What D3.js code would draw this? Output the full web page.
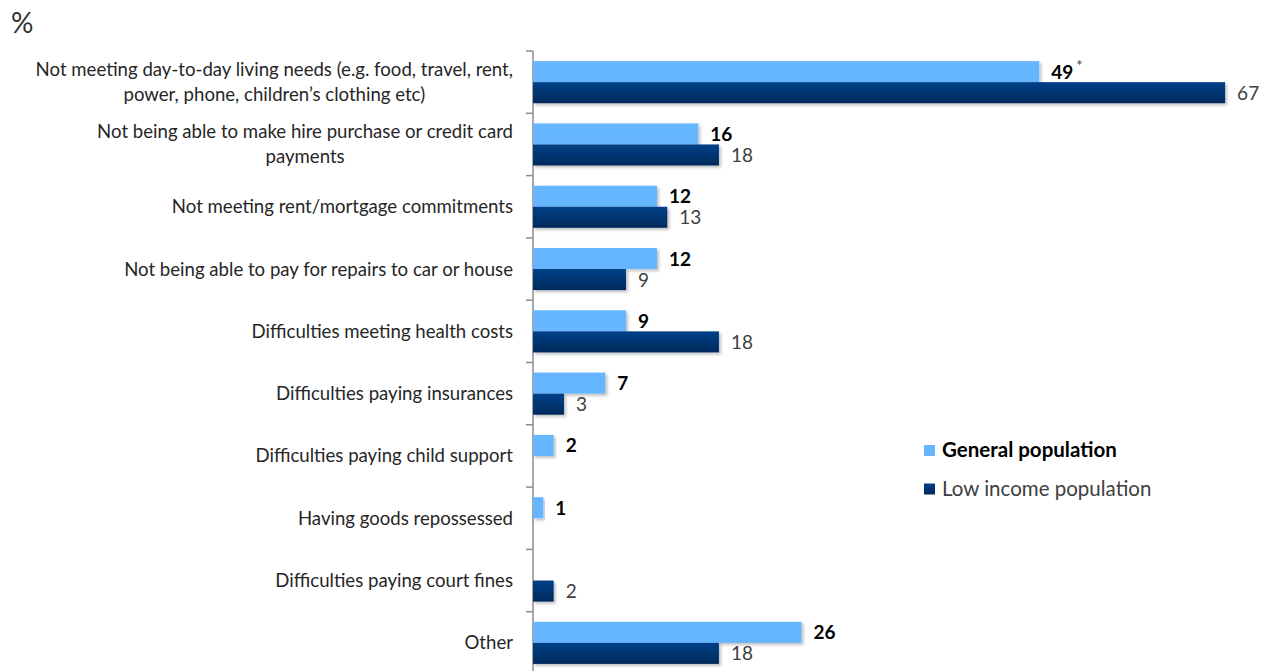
<!DOCTYPE html>
<html>
<head>
<meta charset="utf-8">
<script src="https://cdnjs.cloudflare.com/ajax/libs/d3/7.8.5/d3.min.js"></script>
<style>
body { margin: 0; background: #fff; }
svg text { font-family: Lato, "Open Sans", sans-serif; }
</style>
</head>
<body>
<svg width="1272" height="671"></svg>
<script>
// categories (each entry = lines of the label)
var categories = [
  ["Not meeting day-to-day living needs (e.g. food, travel, rent,", "power, phone, children\u2019s clothing etc)"],
  ["Not being able to make hire purchase or credit card", "payments"],
  ["Not meeting rent/mortgage commitments"],
  ["Not being able to pay for repairs to car or house"],
  ["Difficulties meeting health costs"],
  ["Difficulties paying insurances"],
  ["Difficulties paying child support"],
  ["Having goods repossessed"],
  ["Difficulties paying court fines"],
  ["Other"]
];
var general = [49, 16, 12, 12, 9, 7, 2, 1, null, 26];
var lowIncome = [67, 18, 13, 9, 18, 3, null, null, 2, 18];
var seriesNames = ["General population", "Low income population"];

var svg = d3.select("svg");

var defs = svg.append("defs");
var grad = defs.append("linearGradient").attr("id", "darkGrad")
    .attr("x1", 0).attr("y1", 0).attr("x2", 0).attr("y2", 1);
grad.append("stop").attr("offset", "0%").attr("stop-color", "#004189");
grad.append("stop").attr("offset", "100%").attr("stop-color", "#002a5c");

var shadow = defs.append("filter").attr("id", "shadow")
    .attr("x", "-5%").attr("y", "-20%").attr("width", "120%").attr("height", "160%");
shadow.append("feDropShadow").attr("dx", 2).attr("dy", 2).attr("stdDeviation", 1.5)
    .attr("flood-color", "#000").attr("flood-opacity", 0.25);

var x = d3.scaleLinear().domain([0, 70]).range([533, 533 + 70 * 10.33]);
var y = d3.scaleBand().domain(d3.range(categories.length)).range([51, 51 + 62.3 * 10])
    .paddingInner(0).paddingOuter(0);
var inner = d3.scaleBand().domain([0, 1]).range([0, y.bandwidth()]).paddingOuter(0.48).paddingInner(0);

// % title
svg.append("text").attr("x", 11).attr("y", 33).attr("font-size", 28)
    .attr("fill", "#333").text("%");

// y axis
var gAxis = svg.append("g").attr("transform", "translate(533,0)");
gAxis.append("line").attr("x1", 0).attr("x2", 0).attr("y1", 51).attr("y2", 51 + 62.3 * 10)
    .attr("stroke", "#8c8c8c").attr("stroke-width", 1.5);
gAxis.selectAll(".sep").data(d3.range(categories.length)).enter().append("line")
    .attr("x1", -7).attr("x2", 0)
    .attr("y1", function(d) { return y(d); }).attr("y2", function(d) { return y(d); })
    .attr("stroke", "#8c8c8c").attr("stroke-width", 1.5);

// category labels
categories.forEach(function(lines, i) {
  var cy = y(i) + y.bandwidth() / 2;
  var lh = 25;
  var t = svg.append("text").attr("font-size", 18.6).attr("fill", "#262626").attr("text-anchor", "middle");
  lines.forEach(function(l, k) {
    t.append("tspan").attr("x", 0).attr("y", cy + 6.5 + (k - (lines.length - 1) / 2) * lh).text(l);
  });
  var w = 0;
  t.selectAll("tspan").each(function() { w = Math.max(w, this.getComputedTextLength()); });
  t.selectAll("tspan").attr("x", 513 - w / 2);
});

// bars
var series = [general, lowIncome];
series.forEach(function(vals, s) {
  var g = svg.append("g");
  vals.forEach(function(v, i) {
    if (v === null) return;
    var by = y(i) + inner(s);
    g.append("rect").attr("x", x(0)).attr("y", by)
      .attr("width", x(v) - x(0)).attr("height", inner.bandwidth())
      .attr("fill", s === 0 ? "#66b5ff" : "url(#darkGrad)")
      .attr("filter", "url(#shadow)");
    var lbl = g.append("text").attr("x", x(v) + 12).attr("y", by + inner.bandwidth() / 2 + 7)
      .attr("font-size", 19)
      .attr("font-weight", s === 0 ? 700 : 400)
      .attr("fill", s === 0 ? "#000" : "#404040")
      .text(v);
    if (s === 0 && i === 0) {
      lbl.append("tspan").attr("dx", 3).attr("dy", -8).attr("font-size", 15)
        .attr("font-weight", 400).attr("fill", "#404040").text("*");
    }
  });
});

// legend
var legend = svg.append("g").attr("transform", "translate(924,445)");
seriesNames.forEach(function(n, i) {
  legend.append("rect").attr("x", 0).attr("y", i * 38.5).attr("width", 11).attr("height", 11)
    .attr("fill", i === 0 ? "#66b5ff" : "url(#darkGrad)");
  legend.append("text").attr("x", 18).attr("y", i * 38.5 + 12).attr("font-size", 20.5)
    .attr("font-weight", i === 0 ? 700 : 400)
    .attr("fill", i === 0 ? "#000" : "#404040").text(n);
});
</script>
</body>
</html>
